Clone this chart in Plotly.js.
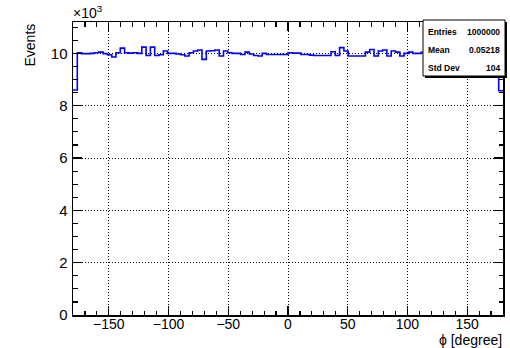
<!DOCTYPE html>
<html>
<head>
<meta charset="utf-8">
<script src="https://cdn.plot.ly/plotly-3.0.1.min.js"></script>
<style>
html,body{margin:0;padding:0;background:#fff;}
#chart{width:510px;height:348px;}
</style>
</head>
<body>
<div id="chart"></div>
<script>
// ---- data ----
var xMin = -180;
var xMax = 180;
var binCounts = [
  8600, 10025, 9990, 9990, 10000, 10025, 10050, 9990, 9950, 9860,
  10025, 10200, 10025, 10010, 10025, 10000, 10240, 9920, 10240, 9920,
  9950, 10090, 10000, 10000, 9975, 9950, 9900, 10025, 10090, 10130,
  9770, 10090, 10100, 10130, 9900, 10090, 10025, 10000, 10000, 9960,
  10050, 9975, 9920, 9900, 10000, 9960, 9960, 9960, 9960, 9960,
  10025, 10010, 10010, 9960, 9960, 9935, 9920, 9920, 9920, 9920,
  10065, 9920, 10220, 10090, 9900, 9900, 9900, 9900, 10050, 10150,
  9900, 10090, 10130, 9900, 10090, 10050, 9900, 10000, 10050, 10000,
  10000, 10040, 9980, 10110, 9950, 10020, 10060, 9930, 10000, 10080,
  9970, 10030, 9940, 10010, 10070, 9990, 10020, 9960, 10050, 8570
];
var xTickVals = [-150, -100, -50, 0, 50, 100, 150];
var xTickText = ['\u2212150', '\u2212100', '\u221250', '0', '50', '100', '150'];
var yTickVals = [0, 2000, 4000, 6000, 8000, 10000];
var yTickText = ['0', '2', '4', '6', '8', '10'];
var statLabels = ['Entries', 'Mean', 'Std Dev'];
var statValues = ['1000000', '0.05218', '104'];
var xTitle = '\u03d5 [degree]';
var yTitle = 'Events';
var yExponent = '\u00d710<sup>3</sup>';

// ---- build step outline from bins ----
var nBins = binCounts.length;
var bw = (xMax - xMin) / nBins;
var sx = [], sy = [];
for (var i = 0; i < nBins; i++) {
  sx.push(xMin + i * bw);
  sy.push(binCounts[i]);
}
sx.push(xMax); sy.push(binCounts[nBins - 1]);

// layout geometry (pixels)
var W = 510, H = 348;
var L = 73, R = 503, T = 22, B = 315;
function px(x) { return (x - L) / (R - L); }
function py(y) { return (B - y) / (B - T); }

var font = 'Liberation Sans, Arial, Helvetica, sans-serif';

var trace = {
  x: sx, y: sy, type: 'scatter', mode: 'lines',
  line: {shape: 'hv', color: '#0000ff', width: 1.6},
  hoverinfo: 'skip', showlegend: false
};

var axisCommon = {
  showline: true, linecolor: '#000', linewidth: 1.5, mirror: 'allticks',
  ticks: 'inside', ticklen: 9, tickwidth: 1.2, tickcolor: '#000',
  showgrid: true, gridcolor: '#000', gridwidth: 1, griddash: '1px,2px',
  zeroline: false,
  tickfont: {family: font, size: 14, color: '#000'}
};

var xaxis = Object.assign({}, axisCommon, {
  range: [xMin, xMax], tickmode: 'array', tickvals: xTickVals, ticktext: xTickText,
  ticklabelstandoff: -4,
  minor: {dtick: 10, tick0: 0, ticks: 'inside', ticklen: 4.5, tickwidth: 1.2, tickcolor: '#000', showgrid: false}
});
var yaxis = Object.assign({}, axisCommon, {
  range: [0, 11200], tickmode: 'array', tickvals: yTickVals, ticktext: yTickText,
  ticklabelstandoff: 1,
  tickfont: {family: font, size: 15, color: '#000'},
  minor: {dtick: 500, tick0: 0, ticks: 'inside', ticklen: 4.5, tickwidth: 1.2, tickcolor: '#000', showgrid: false}
});

var boxL = 423, boxR = 505, boxT = 20, boxB = 76;
var shapes = [
  {type: 'rect', xref: 'paper', yref: 'paper', x0: px(boxL + 2), x1: px(boxR + 2), y0: py(boxB + 2), y1: py(boxT + 2),
   fillcolor: '#000', line: {width: 0}, layer: 'above'},
  {type: 'rect', xref: 'paper', yref: 'paper', x0: px(boxL), x1: px(boxR), y0: py(boxB), y1: py(boxT),
   fillcolor: '#fff', line: {color: '#000', width: 1}, layer: 'above'}
];

var annotations = [];
var rowY = [32, 50, 68];
for (var k = 0; k < statLabels.length; k++) {
  annotations.push({xref: 'paper', yref: 'paper', x: px(426), y: py(rowY[k]), xanchor: 'left', yanchor: 'middle',
    text: '<b>' + statLabels[k] + '</b>', showarrow: false, font: {family: font, size: 8.5, color: '#000'}});
  annotations.push({xref: 'paper', yref: 'paper', x: px(502), y: py(rowY[k]), xanchor: 'right', yanchor: 'middle',
    text: '<b>' + statValues[k] + '</b>', showarrow: false, font: {family: font, size: 8.5, color: '#000'}});
}
annotations.push({xref: 'paper', yref: 'paper', x: px(R + 1), y: py(340), xanchor: 'right', yanchor: 'middle',
  text: xTitle, showarrow: false, font: {family: font, size: 14, color: '#000'}});
annotations.push({xref: 'paper', yref: 'paper', x: px(29), y: py(T), xanchor: 'center', yanchor: 'top',
  text: yTitle, textangle: -90, showarrow: false, font: {family: font, size: 14, color: '#000'}});
annotations.push({xref: 'paper', yref: 'paper', x: px(71), y: py(12), xanchor: 'left', yanchor: 'middle',
  text: yExponent, showarrow: false, font: {family: font, size: 14, color: '#000'}});

var layout = {
  width: W, height: H,
  margin: {l: L, r: W - R, t: T, b: H - B, pad: 0},
  paper_bgcolor: '#fff', plot_bgcolor: '#fff',
  xaxis: xaxis, yaxis: yaxis,
  shapes: shapes, annotations: annotations,
  showlegend: false
};

Plotly.newPlot('chart', [trace], layout, {displayModeBar: false, staticPlot: true});
</script>
</body>
</html>
